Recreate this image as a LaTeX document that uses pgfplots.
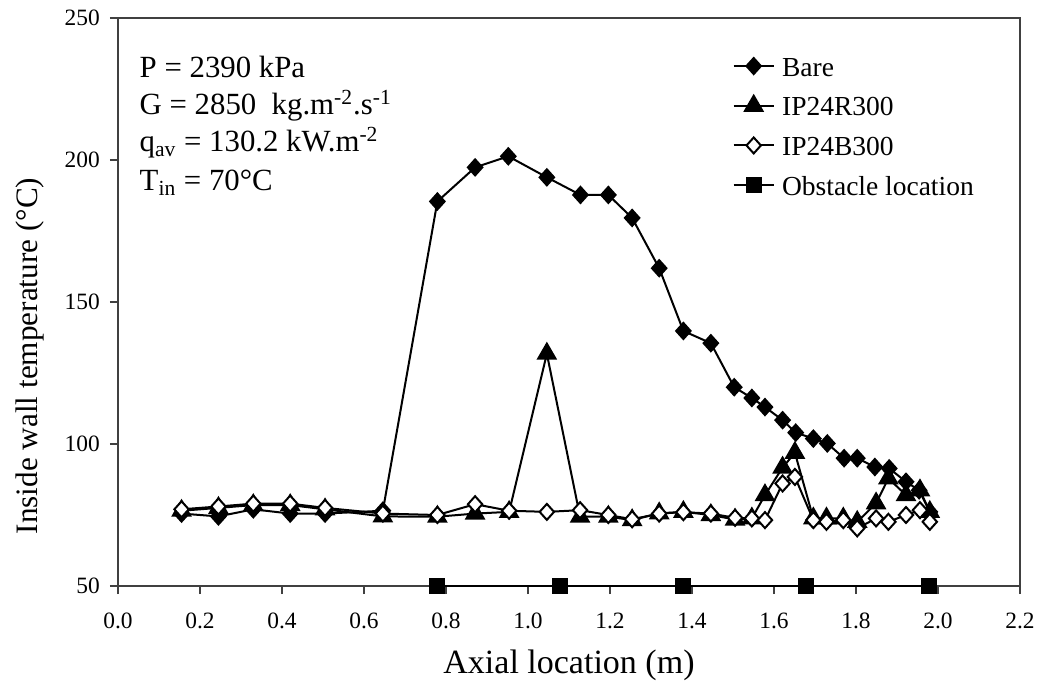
\documentclass[border=0pt]{standalone}
\usepackage{fontspec}
\setmainfont{Liberation Serif}
\usepackage{pgfplots}
\pgfplotsset{compat=1.18}
\newcommand{\tl}[1]{{\fontsize{11.7}{14}\selectfont #1}}

\begin{document}
\begin{tikzpicture}
\useasboundingbox (-59pt,-50.5pt) rectangle (461.5pt,293pt);
\begin{axis}[
  scale only axis, width=451pt, height=284pt,
  xmin=0, xmax=2.2, ymin=50, ymax=250,
  xtick={0,0.2,0.4,0.6,0.8,1.0,1.2,1.4,1.6,1.8,2.0,2.2},
  xticklabels={\tl{0.0},\tl{0.2},\tl{0.4},\tl{0.6},\tl{0.8},\tl{1.0},\tl{1.2},\tl{1.4},\tl{1.6},\tl{1.8},\tl{2.0},\tl{2.2}},
  ytick={50,100,150,200,250},
  yticklabels={\tl{50},\tl{100},\tl{150},\tl{200},\tl{250}},
  tick align=outside, tick pos=left, major tick length=4pt,
  tick style={black!75, line width=0.6pt},
  axis line style={black!75, line width=0.6pt},
  every tick label/.append style={font=\fontsize{11.7}{14}\selectfont},
  xticklabel style={yshift=-6pt},
  yticklabel style={xshift=-1.6pt},
  xlabel={Axial location (m)},
  ylabel={Inside wall temperature (°C)},
  xlabel style={font=\fontsize{17}{20}\selectfont, at={(axis description cs:0.5,-0.139)}, anchor=center},
  ylabel style={font=\fontsize{15.6}{19}\selectfont, at={(axis description cs:-0.0976,0.405)}, anchor=center},
  clip=false,
  legend style={draw=none, fill=none, inner sep=0pt, outer sep=0pt,
    at={(axis description cs:0.6815,0.933)}, anchor=north west,
    font=\fontsize{13.75}{16}\selectfont,
    nodes={inner sep=0pt, text height=10pt, text depth=0pt},
    row sep=9.85pt, column sep=3.7pt},
  legend cell align=left,
  legend image code/.code={\draw[mark repeat=2,mark phase=2] plot coordinates {(0pt,0pt) (10pt,0pt) (20pt,0pt)};},
  every axis plot/.append style={black, line width=1pt},
]
\addplot[mark=diamond*, mark size=4pt, mark options={xscale=1.2, fill=black}] coordinates {
(0.155,75.5) (0.245,74.5) (0.330,77) (0.420,75.5) (0.505,75.5) (0.646,76.5)
(0.779,185.4) (0.871,197.4) (0.952,201.3) (1.046,193.9) (1.128,187.7) (1.196,187.7)
(1.254,179.6) (1.320,161.9) (1.379,139.8) (1.446,135.5) (1.503,120.0) (1.546,116.2)
(1.578,113.0) (1.621,108.4) (1.653,104.0) (1.696,101.9) (1.730,100.2) (1.771,95.0)
(1.803,95.0) (1.846,91.9) (1.881,91.4) (1.922,86.7) (1.954,83.7) (1.980,76.1)
};
\addlegendentry{Bare}
\addplot[mark=triangle*, mark size=5pt, mark options={fill=black}] coordinates {
(0.155,76.5) (0.245,77.5) (0.330,78.5) (0.420,78.5) (0.505,77) (0.646,74.5)
(0.779,74.4) (0.871,75.5) (0.954,76.1) (1.046,131.8) (1.127,74.4) (1.196,74.4)
(1.254,73.2) (1.320,75.6) (1.379,76.1) (1.446,75.0) (1.505,73.4) (1.546,73.8)
(1.578,82.0) (1.621,91.7) (1.651,96.9) (1.696,73.8) (1.728,73.8) (1.769,73.8)
(1.803,72.6) (1.849,79.1) (1.879,87.9) (1.922,82.0) (1.956,83.7) (1.980,76.1)
};
\addlegendentry{IP24R300}
\addplot[mark=diamond*, mark size=4pt, mark options={xscale=1.2, fill=white}] coordinates {
(0.155,77) (0.245,78) (0.330,79) (0.420,79) (0.505,77.5) (0.646,75.5)
(0.779,75) (0.871,78.8) (0.954,76.5) (1.046,76.1) (1.127,76.7) (1.196,75)
(1.254,73.5) (1.320,75.5) (1.379,76) (1.446,75.5) (1.505,74) (1.546,73.8)
(1.578,73.2) (1.621,86.1) (1.651,88.4) (1.696,73.2) (1.728,72.6) (1.769,73.2)
(1.803,70.3) (1.849,73.8) (1.879,72.6) (1.922,75.0) (1.956,76.7) (1.980,72.6)
};
\addlegendentry{IP24B300}
\addplot[mark=square*, mark size=3.5pt, mark options={fill=black}] coordinates {
(0.779,50) (1.078,50) (1.378,50) (1.678,50) (1.979,50)
};
\addlegendentry{Obstacle location}
\node[anchor=base west, inner sep=0pt, font=\fontsize{15.4}{18}\selectfont] at (axis cs:0.052,228.9) {P = 2390 kPa};
\node[anchor=base west, inner sep=0pt, font=\fontsize{15.4}{18}\selectfont] at (axis cs:0.052,215.9) {G = 2850\ \ kg.m\textsuperscript{-2}.s\textsuperscript{-1}};
\node[anchor=base west, inner sep=0pt, font=\fontsize{15.4}{18}\selectfont] at (axis cs:0.052,202.9) {q\textsubscript{av} = 130.2 kW.m\textsuperscript{-2}};
\node[anchor=base west, inner sep=0pt, font=\fontsize{15.4}{18}\selectfont] at (axis cs:0.052,189.2) {T\textsubscript{in} = 70°C};
\end{axis}
\end{tikzpicture}
\end{document}
